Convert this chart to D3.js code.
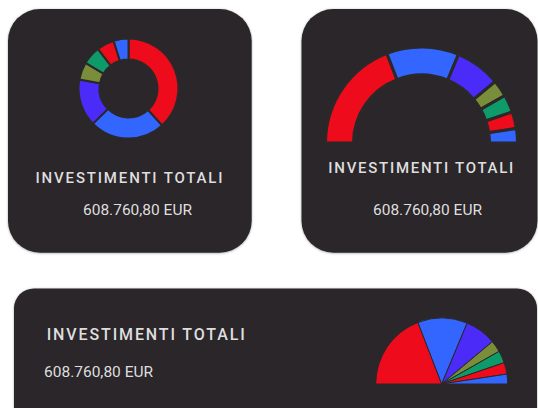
<!DOCTYPE html>
<html>
<head>
<meta charset="utf-8">
<script src="https://cdn.jsdelivr.net/npm/d3@7/dist/d3.min.js"></script>
<style>
  html, body { margin: 0; padding: 0; background: #ffffff; }
  svg { display: block; font-family: Roboto, "Noto Sans", sans-serif; }
</style>
</head>
<body>
<svg id="chart" width="538" height="408"></svg>
<script>
// Investment breakdown (EUR) by asset class
const categories = ["Azioni", "Obbligazioni", "Fondi", "ETF", "Liquidità", "Certificati", "Altro"];
const values = [233000, 148000, 93000, 34500, 36500, 34500, 29260.80];
const colors = ["#ee0b1b", "#3366ff", "#4b2bf8", "#7a8d3a", "#0f9a6a", "#ee0b1b", "#3366ff"];
const title = "INVESTIMENTI TOTALI";
const totalLabel = d3.format(",.2f")(d3.sum(values)).replace(/,/g, "#").replace(".", ",").replace(/#/g, ".") + " EUR";

const cardFill = "#2a2829";
const svg = d3.select("#chart");

const defs = svg.append("defs");
const shadow = defs.append("filter").attr("id", "shadow")
  .attr("x", "-10%").attr("y", "-10%").attr("width", "120%").attr("height", "120%");
shadow.append("feDropShadow").attr("dx", 0).attr("dy", 0.5).attr("stdDeviation", 0.8)
  .attr("flood-color", "#000").attr("flood-opacity", 0.35);

const color = d3.scaleOrdinal().domain(d3.range(values.length)).range(colors);

function card(x, y, w, h, r) {
  svg.append("rect").attr("x", x).attr("y", y).attr("width", w).attr("height", h)
    .attr("rx", r).attr("ry", r).attr("fill", cardFill).attr("filter", "url(#shadow)");
}

function label(x, y, text, size, width, anchor, weight, spacing) {
  const t = svg.append("text").attr("x", x).attr("y", y)
    .attr("font-size", size).attr("font-weight", weight)
    .attr("fill", "#dedede").attr("text-anchor", anchor).text(text);
  if (spacing) t.attr("textLength", width).attr("lengthAdjust", "spacing");
  return t;
}

function drawArcs(cx, cy, inner, outer, start, end, strokeW) {
  const pie = d3.pie().sort(null).value(d => d).startAngle(start).endAngle(end);
  const arc = d3.arc().innerRadius(inner).outerRadius(outer);
  svg.append("g").attr("transform", `translate(${cx},${cy})`)
    .selectAll("path").data(pie(values)).join("path")
    .attr("d", arc)
    .attr("fill", (d, i) => color(i))
    .attr("stroke", cardFill)
    .attr("stroke-width", strokeW)
    .attr("stroke-linejoin", "miter");
}

// Card 1: full donut
card(8, 9, 243.7, 243.7, 32);
drawArcs(128.5, 88.5, 29, 50, 0, 2 * Math.PI, 2);
label(129, 182.7, title, 15, 187, "middle", 500, true);
label(137.5, 215, totalLabel, 15.5, 112, "middle", 400, false);

// Card 2: half donut
card(301.5, 9, 236, 243.7, 32);
drawArcs(421.5, 143, 68, 96, -Math.PI / 2, Math.PI / 2, 3);
label(420.8, 172.7, title, 15, 185, "middle", 500, true);
label(427.5, 215, totalLabel, 15.5, 112, "middle", 400, false);

// Card 3: half pie, horizontal layout
card(14, 288.5, 523, 140, 20);
drawArcs(441.7, 384, 0, 66, -Math.PI / 2, Math.PI / 2, 1);
label(46.7, 340, title, 16, 198, "start", 500, true);
label(44, 377.3, totalLabel, 15.5, 112, "start", 400, false);
</script>
</body>
</html>
